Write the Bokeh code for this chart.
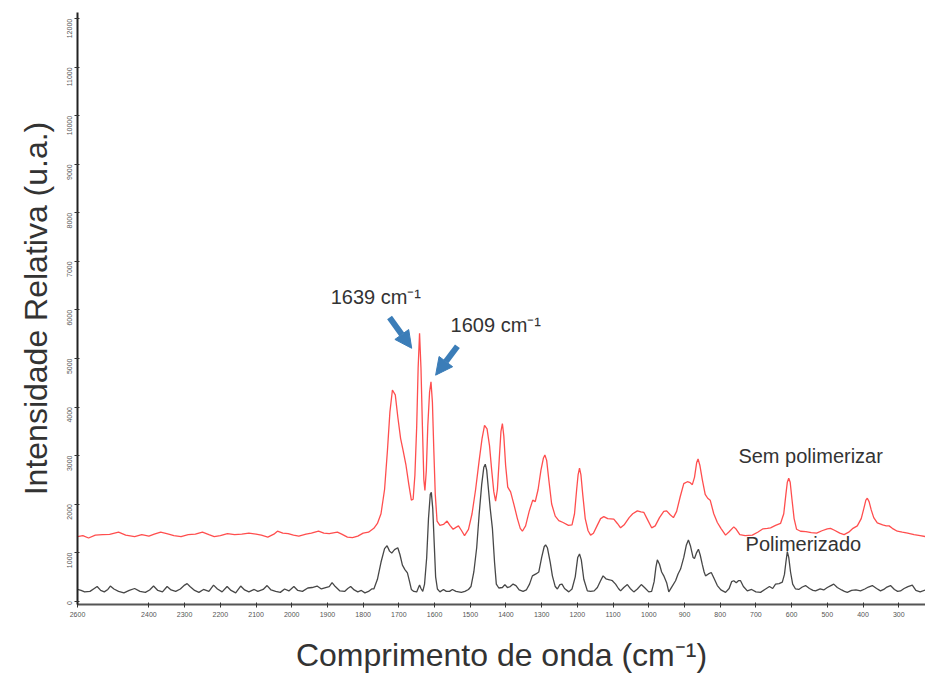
import math
from bokeh.plotting import figure
from bokeh.models import Range1d, FixedTicker, Label, Arrow, NormalHead
from bokeh.embed import file_html
from bokeh.resources import INLINE

# ---------------- data ----------------
x_ticks = [2600, 2400, 2300, 2200, 2100, 2000, 1900, 1800, 1700, 1600, 1500, 1400,
           1300, 1200, 1100, 1000, 900, 800, 700, 600, 500, 400, 300, 200]
y_ticks = [0, 1000, 2000, 3000, 4000, 5000, 6000, 7000, 8000, 9000, 10000, 11000, 12000]

red_wn = [2600, 2585, 2569, 2550, 2530, 2510, 2485, 2465, 2440, 2420, 2400, 2385, 2367, 2350,
          2330, 2310, 2290, 2270, 2250, 2232, 2217, 2200, 2180, 2160, 2140, 2120, 2100, 2085,
          2067, 2050, 2040, 2025, 2010, 1995, 1980, 1960, 1945, 1925, 1910, 1895, 1880, 1872,
          1860, 1844, 1830, 1815, 1800, 1785, 1770, 1760, 1750, 1740, 1732, 1725, 1718, 1710,
          1703, 1695, 1688, 1680, 1672, 1665, 1660, 1655, 1650, 1646, 1642, 1638, 1634, 1630,
          1627, 1623, 1619, 1614, 1610, 1606, 1602, 1598, 1593, 1585, 1575, 1565, 1557, 1548,
          1540, 1533, 1525, 1516, 1505, 1495, 1485, 1475, 1467, 1460, 1453, 1446, 1440, 1434,
          1429, 1424, 1419, 1414, 1410, 1406, 1401, 1395, 1387, 1378, 1368, 1360, 1354, 1345,
          1335, 1325, 1318, 1310, 1302, 1295, 1291, 1286, 1280, 1272, 1262, 1252, 1240, 1225,
          1215, 1208, 1202, 1198, 1194, 1190, 1185, 1178, 1170, 1163, 1155, 1145, 1135, 1126,
          1115, 1098, 1088, 1079, 1068, 1055, 1045, 1032, 1022, 1014, 1005, 992, 982, 970,
          958, 950, 940, 931, 922, 912, 902, 892, 884, 878, 872, 866, 862, 857, 850, 842, 835,
          828, 818, 808, 798, 785, 775, 762, 755, 745, 730, 710, 695, 680, 668, 659, 645, 631,
          622, 616, 612, 608, 604, 599, 593, 586, 575, 560, 545, 530, 515, 500, 491, 480, 465,
          453, 440, 428, 416, 405, 398, 392, 388, 383, 377, 370, 360, 345, 335, 327, 318, 304,
          290, 275, 257, 240, 225]
red_int = [1330, 1350, 1300, 1360, 1370, 1375, 1420, 1360, 1330, 1370, 1340, 1380, 1420, 1390,
           1350, 1330, 1370, 1380, 1420, 1370, 1330, 1350, 1390, 1370, 1380, 1400, 1380, 1360,
           1320, 1380, 1440, 1400, 1390, 1360, 1340, 1380, 1400, 1440, 1400, 1390, 1410, 1420,
           1380, 1320, 1310, 1340, 1400, 1420, 1500, 1600, 1800, 2300, 3100, 3900, 4350, 4250,
           3800, 3350, 3100, 2800, 2400, 2080, 2100, 2600, 3600, 4800, 5520, 4800, 3600, 2500,
           2280, 2700, 3600, 4300, 4520, 4100, 3100, 2200, 1650, 1560, 1580, 1650, 1560, 1480,
           1520, 1550, 1460, 1350, 1480, 1800, 2300, 2900, 3350, 3620, 3550, 3200, 2700, 2250,
           2060, 2300, 2900, 3500, 3660, 3400, 2800, 2350, 2250, 2000, 1700, 1500, 1440, 1550,
           1850, 2080, 2050, 2300, 2700, 2950, 3010, 2900, 2500, 2000, 1750, 1660, 1620, 1560,
           1570, 1800, 2300, 2600, 2740, 2600, 2200, 1700, 1450, 1360, 1400, 1550, 1700, 1740,
           1700, 1690, 1600, 1510, 1580, 1720, 1800, 1860, 1840, 1830, 1700, 1510, 1550, 1720,
           1850, 1860, 1780, 1720, 1850, 2150, 2420, 2460, 2440, 2400, 2550, 2850, 2930, 2800,
           2500, 2200, 2120, 2080, 1800, 1620, 1500, 1360, 1430, 1530, 1480, 1370, 1350, 1360,
           1420, 1490, 1500, 1510, 1560, 1600, 1800, 2200, 2450, 2530, 2450, 2100, 1700, 1480,
           1440, 1430, 1410, 1400, 1450, 1490, 1500, 1460, 1400, 1370, 1420, 1500, 1550, 1700,
           1900, 2080, 2120, 2050, 1880, 1720, 1610, 1570, 1550, 1550, 1500, 1440, 1420, 1400,
           1370, 1350, 1330]

black_wn = [2600, 2590, 2580, 2565, 2553, 2545, 2535, 2525, 2515, 2508, 2498, 2485, 2470, 2455,
            2440, 2425, 2410, 2398, 2387, 2375, 2362, 2349, 2338, 2325, 2312, 2300, 2293, 2285,
            2272, 2260, 2247, 2232, 2219, 2208, 2195, 2181, 2170, 2157, 2143, 2132, 2120, 2105,
            2095, 2080, 2069, 2058, 2045, 2032, 2020, 2008, 1994, 1983, 1970, 1955, 1943, 1929,
            1917, 1905, 1895, 1887, 1878, 1865, 1852, 1843, 1835, 1825, 1815, 1805, 1795, 1785,
            1776, 1770, 1760, 1750, 1740, 1733, 1726, 1720, 1712, 1703, 1697, 1690, 1683, 1676,
            1670, 1665, 1658, 1650, 1645, 1642, 1638, 1633, 1628, 1622, 1617, 1612, 1609, 1605,
            1601, 1597, 1592, 1585, 1575, 1567, 1558, 1550, 1540, 1525, 1515, 1505, 1498, 1490,
            1482, 1475, 1468, 1462, 1458, 1454, 1449, 1444, 1438, 1432, 1427, 1420, 1410, 1403,
            1396, 1388, 1380, 1372, 1363, 1352, 1343, 1334, 1326, 1316, 1308, 1300, 1293, 1289,
            1284, 1276, 1270, 1262, 1256, 1249, 1243, 1236, 1224, 1215, 1206, 1199, 1194, 1189,
            1182, 1172, 1163, 1153, 1144, 1135, 1128, 1120, 1110, 1102, 1093, 1085, 1079, 1070,
            1060, 1052, 1042, 1032, 1021, 1012, 1000, 992, 985, 980, 976, 970, 964, 958, 950,
            944, 935, 925, 918, 911, 902, 895, 889, 883, 876, 872, 866, 861, 856, 850, 845, 841,
            833, 825, 818, 808, 798, 785, 775, 768, 762, 755, 749, 743, 735, 724, 712, 700, 687,
            675, 662, 653, 645, 635, 626, 620, 616, 612, 608, 603, 597, 589, 580, 570, 561, 550,
            540, 533, 520, 510, 500, 490, 482, 472, 460, 452, 444, 432, 420, 407, 395, 385, 374,
            362, 351, 342, 333, 323, 312, 303, 295, 285, 274, 262, 252, 240, 225]
black_int = [240, 220, 190, 200, 260, 300, 220, 190, 240, 310, 250, 200, 170, 220,
             260, 200, 180, 230, 310, 220, 190, 300, 230, 200, 250, 330, 360, 300,
             220, 180, 240, 200, 330, 250, 190, 300, 220, 170, 310, 230, 190, 240,
             200, 240, 320, 230, 200, 180, 250, 210, 300, 220, 200, 270, 280, 310,
             250, 280, 300, 380, 300, 210, 200, 260, 300, 230, 190, 220, 170, 200,
             250, 250, 450, 800, 1080, 1140, 1030, 990, 1060, 1100, 960, 740, 650, 580,
             400, 240, 200, 190, 280, 330, 260, 200, 350, 900, 1700, 2200, 2240, 1900,
             1200, 500, 250, 190, 240, 200, 200, 240, 200, 180, 200, 240, 300, 600,
             1100, 1800, 2400, 2760, 2820, 2700, 2300, 1900, 1500, 800, 350, 270, 280, 340,
             280, 300, 350, 320, 230, 200, 230, 350, 520, 560, 600, 900, 1120, 1160,
             1100, 800, 520, 300, 250, 340, 350, 260, 190, 250, 500, 900, 970, 850,
             450, 210, 200, 210, 280, 420, 520, 460, 440, 420, 350, 260, 210, 280,
             340, 260, 190, 250, 340, 280, 190, 200, 400, 700, 850, 760, 600, 520, 380,
             190, 300, 420, 560, 660, 900, 1150, 1260, 1130, 900, 880, 1000, 1070, 950, 750, 600, 520,
             560, 590, 480, 320, 230, 180, 260, 400, 420, 380, 420, 420, 300, 210, 240, 190, 180,
             240, 300, 260, 350, 360, 390, 550, 800, 1020, 900, 600, 350, 250, 240, 290, 320, 260,
             220, 210, 250, 230, 280, 320, 350, 280, 230, 200, 180, 220, 230, 210, 250, 290, 320,
             260, 210, 240, 290, 320, 240, 200, 210, 260, 300, 330, 220, 190, 230]

series_names = ["Sem polimerizar", "Polimerizado"]
peak_labels = ["1639 cm\u207b\u00b9", "1609 cm\u207b\u00b9"]
x_title = "Comprimento de onda (cm\u207b\u00b9)"
y_title = "Intensidade Relativa (u.a.)"

# ---------------- figure ----------------
FONT = "Liberation Sans"
TXT = "#333333"

p = figure(width=925, height=675, output_backend="svg", toolbar_location=None,
           x_range=Range1d(2600, 225), y_range=Range1d(-70, 12130),
           min_border_left=77, min_border_right=0, min_border_top=12, min_border_bottom=69,
           x_axis_label=x_title, y_axis_label=y_title)
p.outline_line_color = None
p.grid.visible = False
p.background_fill_color = "white"

p.line(red_wn, red_int, line_color="#ff3b3b", line_width=1.3, line_alpha=0.9)
p.line(black_wn, black_int, line_color="#333333", line_width=1.3, line_alpha=0.9)

p.xaxis.ticker = FixedTicker(ticks=x_ticks)
p.yaxis.ticker = FixedTicker(ticks=y_ticks)
p.yaxis.formatter.use_scientific = False
for ax in (p.xaxis[0], p.yaxis[0]):
    ax.major_label_text_font = FONT
    ax.major_label_text_font_size = "7px"
    ax.major_label_text_color = "#555555"
    ax.major_tick_in = 2
    ax.major_tick_out = 3
    ax.minor_tick_line_color = None
    ax.major_tick_line_color = "#333333"
    ax.axis_line_width = 2
    ax.axis_label_text_font = FONT
    ax.axis_label_text_font_size = "32px"
    ax.axis_label_text_font_style = "normal"
    ax.axis_label_text_color = TXT
p.xaxis.axis_line_color = "#555555"
p.yaxis.axis_line_color = "#222222"
p.xaxis.major_label_standoff = 4
p.yaxis.major_label_standoff = 5
p.yaxis.major_label_orientation = math.pi / 2
p.xaxis.axis_label_standoff = 17
p.yaxis.axis_label_standoff = 8

# peak annotations
p.add_layout(Label(x=1891, y=6270, text=peak_labels[0], text_align="left", text_baseline="middle",
                   text_font=FONT, text_font_size="20px", text_color=TXT))
p.add_layout(Label(x=1555, y=5680, text=peak_labels[1], text_align="left", text_baseline="middle",
                   text_font=FONT, text_font_size="20px", text_color=TXT))

BLUE = "#3b7db8"
p.add_layout(Arrow(x_start=1726, y_start=5846, x_end=1664, y_end=5210, line_color=BLUE, line_width=6,
                   end=NormalHead(size=17, fill_color=BLUE, line_color=BLUE)))
p.add_layout(Arrow(x_start=1536, y_start=5251, x_end=1597, y_end=4656, line_color=BLUE, line_width=6,
                   end=NormalHead(size=17, fill_color=BLUE, line_color=BLUE)))

# series names
p.add_layout(Label(x=749, y=2995, text=series_names[0], text_align="left", text_baseline="middle",
                   text_font=FONT, text_font_size="20px", text_color=TXT))
p.add_layout(Label(x=729, y=1170, text=series_names[1], text_align="left", text_baseline="middle",
                   text_font=FONT, text_font_size="20px", text_color=TXT))

open("out.html", "w").write(file_html(p, INLINE))
